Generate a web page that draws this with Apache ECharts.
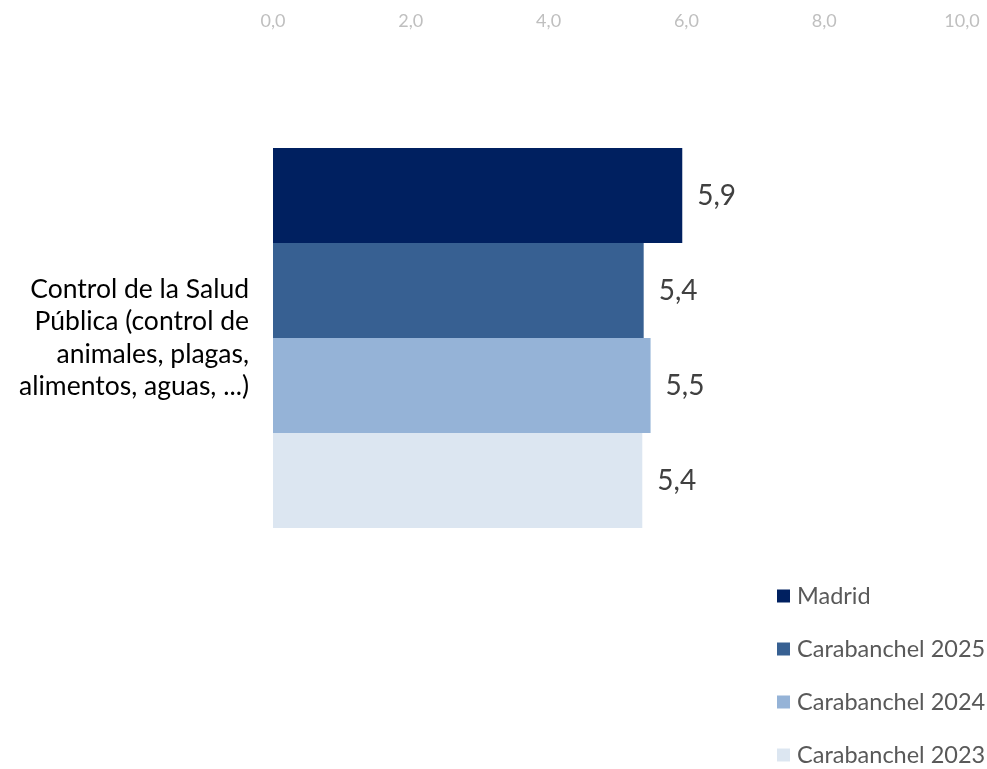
<!DOCTYPE html>
<html>
<head>
<meta charset="utf-8">
<script src="https://cdn.jsdelivr.net/npm/echarts@6/dist/echarts.min.js"></script>
<style>html,body{margin:0;padding:0;background:#fff}#c{width:987px;height:769px}</style>
</head>
<body>
<div id="c"></div>
<script>
const categories = ['Control de la Salud\nPública (control de\nanimales, plagas,\nalimentos, aguas, ...)'];
const seriesNames = ['Madrid', 'Carabanchel 2025', 'Carabanchel 2024', 'Carabanchel 2023'];
const madrid = [5.94];
const carab2025 = [5.38];
const carab2024 = [5.48];
const carab2023 = [5.36];
const colors = ['#002060', '#376092', '#95B3D7', '#DCE6F1'];
const values = [madrid, carab2025, carab2024, carab2023];

const chart = echarts.init(document.getElementById('c'));
const fmt = v => v.toFixed(1).replace('.', ',');
chart.setOption({
  animation: false,
  grid: { left: 273, right: 25, top: 40, bottom: 133 },
  legend: {
    orient: 'vertical',
    left: 777, top: 584, height: 200, padding: 0,
    itemWidth: 13, itemHeight: 13, itemGap: 29,
    icon: 'rect',
    textStyle: { fontFamily: 'Lato', fontSize: 23.5, color: '#595959', padding: [0, 0, 0, 2] },
    data: seriesNames
  },
  xAxis: {
    type: 'value', position: 'top', min: 0, max: 10, interval: 2,
    axisLine: { show: false }, axisTick: { show: false }, splitLine: { show: false },
    axisLabel: { formatter: fmt, color: '#BFBFBF', fontFamily: 'Lato', fontSize: 18, margin: 10 }
  },
  yAxis: {
    type: 'category', data: categories, inverse: true,
    axisLine: { show: false }, axisTick: { show: false },
    axisLabel: { color: '#000', fontFamily: 'Lato', fontSize: 26.5, lineHeight: 32.5, margin: 24, align: 'right' }
  },
  series: seriesNames.map((n, i) => ({
    name: n, type: 'bar', data: values[i], barWidth: 95, barGap: '0%',
    itemStyle: { color: colors[i] },
    label: { show: true, position: 'right', distance: 15, formatter: p => fmt(p.value), fontFamily: 'Lato', fontSize: 28, color: '#404040' }
  }))
});
</script>
</body>
</html>
